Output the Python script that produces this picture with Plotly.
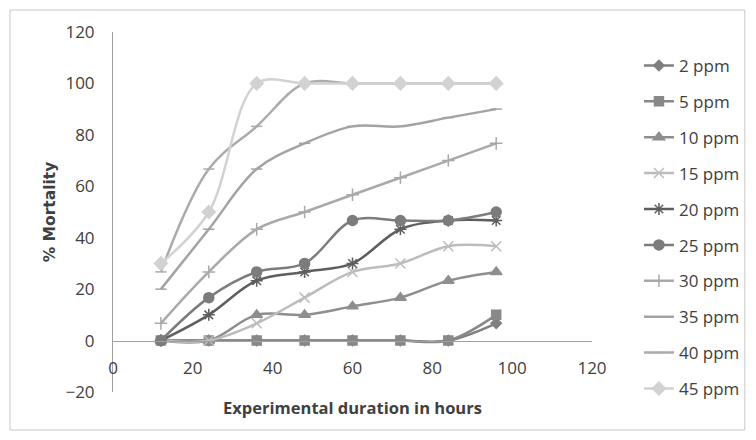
import plotly.graph_objects as go

hours = [12, 24, 36, 48, 60, 72, 84, 96]
series_names = ["2 ppm", "5 ppm", "10 ppm", "15 ppm", "20 ppm",
                "25 ppm", "30 ppm", "35 ppm", "40 ppm", "45 ppm"]
ppm2 = [0, 0, 0, 0, 0, 0, 0, 6.7]
ppm5 = [0, 0, 0, 0, 0, 0, 0, 10]
ppm10 = [0, 0, 10, 10, 13.3, 16.7, 23.3, 26.7]
ppm15 = [0, 0, 6.7, 16.7, 26.7, 30, 36.7, 36.7]
ppm20 = [0, 10, 23.3, 26.7, 30, 43.3, 46.7, 46.7]
ppm25 = [0, 16.7, 26.7, 30, 46.7, 46.7, 46.7, 50]
ppm30 = [6.7, 26.7, 43.3, 50, 56.7, 63.3, 70, 76.7]
ppm35 = [20, 43.3, 66.7, 76.7, 83.3, 83.3, 86.7, 90]
ppm40 = [26.7, 66.7, 83.3, 100, 100, 100, 100, 100]
ppm45 = [30, 50, 100, 100, 100, 100, 100, 100]
values = [ppm2, ppm5, ppm10, ppm15, ppm20, ppm25, ppm30, ppm35, ppm40, ppm45]

x_ticks = [0, 20, 40, 60, 80, 100, 120]
y_ticks = [-20, 0, 20, 40, 60, 80, 100, 120]

styles = [
    dict(color="#7f7f7f", symbol="diamond", size=8),
    dict(color="#888888", symbol="square", size=9),
    dict(color="#8e8e8e", symbol="triangle-up", size=10),
    dict(color="#bcbcbc", symbol="x-thin-open", size=10),
    dict(color="#5e5e5e", symbol="asterisk-open", size=10),
    dict(color="#7c7c7c", symbol="circle", size=10),
    dict(color="#a9a9a9", symbol="cross-thin-open", size=9),
    dict(color="#a3a3a3", symbol="line-ew-open", size=8),
    dict(color="#ababab", symbol="line-ew-open", size=8),
    dict(color="#d2d2d2", symbol="diamond", size=10),
]

fig = go.Figure()
for name, vals, st in zip(series_names, values, styles):
    fig.add_trace(go.Scatter(
        x=hours, y=vals, name=name, mode="lines+markers",
        line=dict(color=st["color"], width=2.5, shape="spline", smoothing=1),
        marker=dict(color=st["color"], symbol=st["symbol"], size=st["size"],
                    line=dict(color=st["color"], width=1.5)),
        legendgroup=name,
    ))

font_family = "Open Sans, Liberation Sans, sans-serif"

fig.update_layout(
    width=756, height=440,
    margin=dict(l=105, r=172, t=24, b=56, autoexpand=False),
    paper_bgcolor="white", plot_bgcolor="white",
    font=dict(family=font_family, color="#404040", size=17),
    showlegend=True,
    legend=dict(x=1.098, y=0.956, xanchor="left", yanchor="top",
                font=dict(size=17, color="#404040"),
                tracegroupgap=10.8, bgcolor="rgba(0,0,0,0)"),
    xaxis=dict(range=[0, 120], tickvals=x_ticks, showgrid=False, automargin=False,
               zeroline=False, showline=True, linecolor="#a0a0a0", linewidth=1,
               anchor="free", position=20 / 140, ticks="", ticklabelstandoff=12,
               tickfont=dict(size=17, color="#404040"),
               title=dict(text="<b>Experimental duration in hours</b>",
                          font=dict(size=16.5, color="#404040"), standoff=24)),
    yaxis=dict(range=[-20, 120], tickvals=y_ticks, showgrid=False, automargin=False,
               zeroline=False, showline=True, linecolor="#a0a0a0", linewidth=1,
               ticks="", ticklabelstandoff=14, tickfont=dict(size=17, color="#404040"),
               title=dict(text="<b>% Mortality</b>", standoff=6,
                          font=dict(family="DejaVu Sans, Verdana, sans-serif",
                                    size=15.5, color="#404040"))),
    shapes=[dict(type="rect", xref="paper", yref="paper",
                 x0=-0.215, x1=1.319, y0=-0.1056, y1=1.061,
                 line=dict(color="#c8c8c8", width=1), fillcolor="rgba(0,0,0,0)",
                 layer="below")],
)

fig.write_html("out.html")
